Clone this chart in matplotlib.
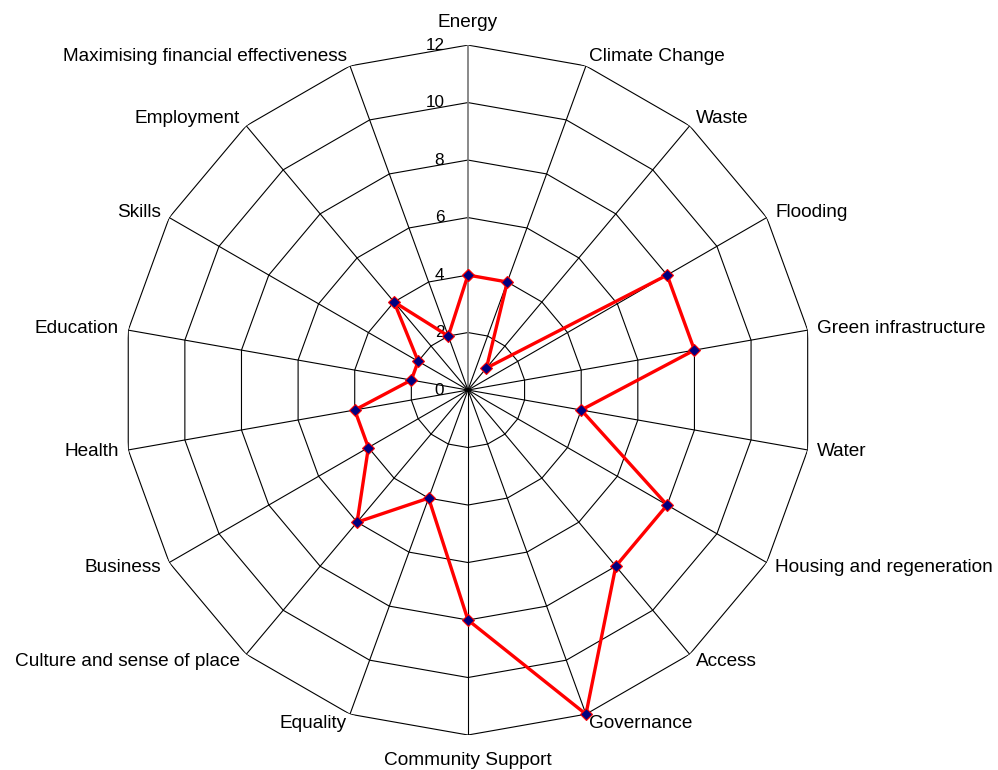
import matplotlib.pyplot as plt
import numpy as np

plt.rcParams['font.family'] = ['Liberation Sans', 'DejaVu Sans']

# categories, clockwise from the top
categories = ['Energy', 'Climate Change', 'Waste', 'Flooding', 'Green infrastructure',
              'Water', 'Housing and regeneration', 'Access', 'Governance',
              'Community Support', 'Equality', 'Culture and sense of place',
              'Business', 'Health', 'Education', 'Skills', 'Employment',
              'Maximising financial effectiveness']
scores = [4, 4, 1, 8, 8, 4, 8, 8, 12, 8, 4, 6, 4, 4, 2, 2, 4, 2]
rings = [2, 4, 6, 8, 10, 12]
ring_labels = ['0', '2', '4', '6', '8', '10', '12']

n = len(categories)
theta = np.arange(n) * 2 * np.pi / n
theta_closed = np.append(theta, theta[0])

fig = plt.figure(figsize=(9.98, 7.7), dpi=100)
ax = fig.add_axes([0.1232, 0.04545, 0.6914, 0.896], projection='polar')
ax.set_theta_zero_location('N')
ax.set_theta_direction(-1)
ax.set_ylim(0, 12)
ax.grid(False)
ax.spines['polar'].set_visible(False)
ax.set_xticks([])
ax.set_yticks([])

# polygon grid
for r in rings:
    ax.plot(theta_closed, [r] * (n + 1), color='black', lw=0.8, zorder=1)
for i, t in enumerate(theta):
    if i == 0:
        ax.plot([t, t], [0, 12], color='#808080', lw=1.3, zorder=1)
    else:
        ax.plot([t, t], [0, 12], color='black', lw=0.8, zorder=1)

# radial value labels along the top spoke
for i, lab in enumerate(ring_labels):
    ax.annotate(lab, xy=(0, i * 2), xytext=(-17, 0), textcoords='offset points',
                ha='right', va='center', fontsize=12.3)

# category labels
for t, name in zip(theta, categories):
    s, c = np.sin(t), np.cos(t)
    if abs(s) < 0.01:
        ha = 'center'
        va = 'bottom' if c > 0 else 'top'
        off = (0, 10) if c > 0 else (0, -12)
    else:
        ha = 'left' if s > 0 else 'right'
        va = 'center'
        off = (7 * s, 7 * c)
    ax.annotate(name, xy=(t, 12), xytext=off, textcoords='offset points',
                ha=ha, va=va, fontsize=13.7)

vals = scores + scores[:1]
ax.plot(theta_closed, vals, color='#ff0000', lw=2.4, marker='D', markersize=6,
        markerfacecolor='#000080', markeredgecolor='#ff0000', markeredgewidth=0.8,
        zorder=3, clip_on=False)

fig.savefig('out.png', dpi=100)
